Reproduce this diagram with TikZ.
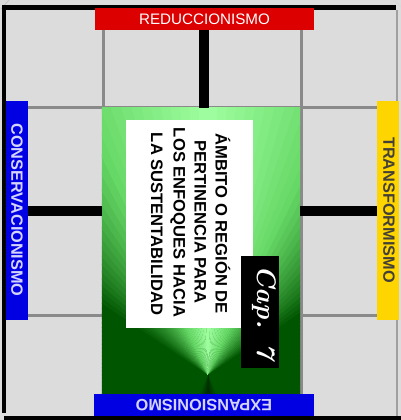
\documentclass[tikz,border=0pt]{standalone}
\usepackage{fontspec}
\setmainfont{Liberation Sans}
\usetikzlibrary{calc}
\definecolor{bg}{HTML}{DCDCDC}
\definecolor{gridc}{HTML}{8A8A8A}
\definecolor{redb}{HTML}{DD0000}
\definecolor{blueb}{HTML}{0000E2}
\definecolor{yelb}{HTML}{FFD500}
\definecolor{bluetxt}{HTML}{D4D4FF}
\definecolor{glight}{HTML}{A0FFA0}
\definecolor{gmid}{HTML}{66D866}
\definecolor{gdark}{HTML}{005500}
\definecolor{gvdark}{HTML}{002400}
\tikzset{
  gridline/.style={draw=gridc, line width=3pt},
  thickbar/.style={draw=black, line width=10pt},
  framebar/.style={draw=black},
  banner/.style={rectangle, inner sep=0pt, draw=none},
  bantext/.style={inner sep=0pt, font=\fontsize{16.3}{18}\selectfont\bfseries},
  boxtext/.style={inner sep=0pt, anchor=base, rotate=-90, font=\fontsize{16.6}{18}\selectfont\bfseries},
}
\begin{document}
\begin{tikzpicture}[x=1pt,y=-1pt]
\useasboundingbox (0,0) rectangle (401,420);
\fill[bg] (0,0) rectangle (401,420);
% faint 3D corner edges
\draw[gray!45, line width=0.8pt] (1,9) -- (9,0);
\draw[gray!30, line width=0.8pt] (393,0) -- (401,7);
% grid lines
\draw[gridline] (103,10) -- (103,416);
\draw[gridline] (301.5,10) -- (301.5,416);
\draw[gridline] (6,107.5) -- (396,107.5);
\draw[gridline] (6,315.5) -- (396,315.5);
% frame
\draw[framebar, line width=5pt] (2,7.5) -- (396,7.5);
\draw[framebar, line width=4.5pt] (3.8,6) -- (3.8,413);
\draw[framebar, line width=4pt] (4,418) -- (401,418);
\draw[draw=gray!75, line width=2pt] (396.5,10) -- (396.5,416);
% nodes (geometry)
\node[banner, minimum width=198pt, minimum height=286pt] (gb) at (201,251) {};
\coordinate (F) at (208,375);
% green conic shading
\begin{scope}
  \clip (gb.north west) rectangle (gb.south east);
  \fill[gdark] (gb.north west) rectangle (gb.south east);
  \foreach \a in {-180,-178,...,-2} {
    \pgfmathsetmacro\d{abs(\a+1+90)}
    \pgfmathtruncatemacro\pA{max(0,min(100,100*(1-\d/25)))}
    \pgfmathtruncatemacro\pB{max(0,min(100,100*(1-(\d-25)/32)))}
    \colorlet{tmpc}{gmid!\pB!gdark}
    \colorlet{wc}{glight!\pA!tmpc}
    \fill[wc] (F) -- ($(F)+(\a:600)$) -- ($(F)+(\a+2.3:600)$) -- cycle;
  }
  \foreach \a in {0,2,...,178} {
    \pgfmathsetmacro\d{abs(\a+1-90)}
    \pgfmathtruncatemacro\pC{max(0,min(100,100*(1-\d/25)))}
    \colorlet{wc}{gvdark!\pC!gdark}
    \fill[wc] (F) -- ($(F)+(\a:600)$) -- ($(F)+(\a+2.3:600)$) -- cycle;
  }
\end{scope}
% white box
\node[banner, fill=white, minimum width=127pt, minimum height=208pt] (wb) at (189.5,224) {};
\node[boxtext] (t1) at (215.5,223.5) {ÁMBITO O REGIÓN DE};
\node[boxtext] (t2) at (194.5,222) {PERTINENCIA PARA};
\node[boxtext] (t3) at (173.5,222.5) {LOS ENFOQUES HACIA};
\node[boxtext] (t4) at (151,224) {LA SUSTENTABILIDAD};
% Cap. 7 box
\node[banner, fill=black, minimum width=38pt, minimum height=112pt] (cb) at (260,312) {};
\node[inner sep=0pt, anchor=base, rotate=-90, text=white] (ct) at (257.5,312.5)
  {\resizebox{94pt}{!}{\fontspec{Latin Modern Roman}\bfseries\itshape Cap. 7}};
% banners
\node[banner, fill=redb, minimum width=219pt, minimum height=22pt] (rb) at (204.5,19) {};
\node[inner sep=0pt, text=white, font=\fontsize{15.2}{17}\selectfont] (rt) at (rb.center) {REDUCCIONISMO};
\node[banner, fill=blueb, minimum width=22pt, minimum height=219pt] (lb) at (17,210.5) {};
\node[bantext, text=bluetxt, rotate=-90] (lt) at (17,210) {CONSERVACIONISMO};
\node[banner, fill=yelb, minimum width=22pt, minimum height=219pt] (yb) at (388,210.5) {};
\node[bantext, text=black!85!yellow, rotate=-90] (yt) at (389,210) {TRANSFORMISMO};
\node[banner, fill=blueb, minimum width=220pt, minimum height=22pt] (bb) at (204,405) {};
\node[bantext, text=bluetxt, rotate=180] (bt) at (204,405) {EXPANSIONISMO};
% thick connectors
\draw[thickbar] (204,30) coordinate (vtop) -- (vtop |- gb.north);
\draw[thickbar] (lb.east) -- (lb.east -| gb.west);
\draw[thickbar] (yb.west) -- (yb.west -| gb.east);
\end{tikzpicture}
\end{document}
